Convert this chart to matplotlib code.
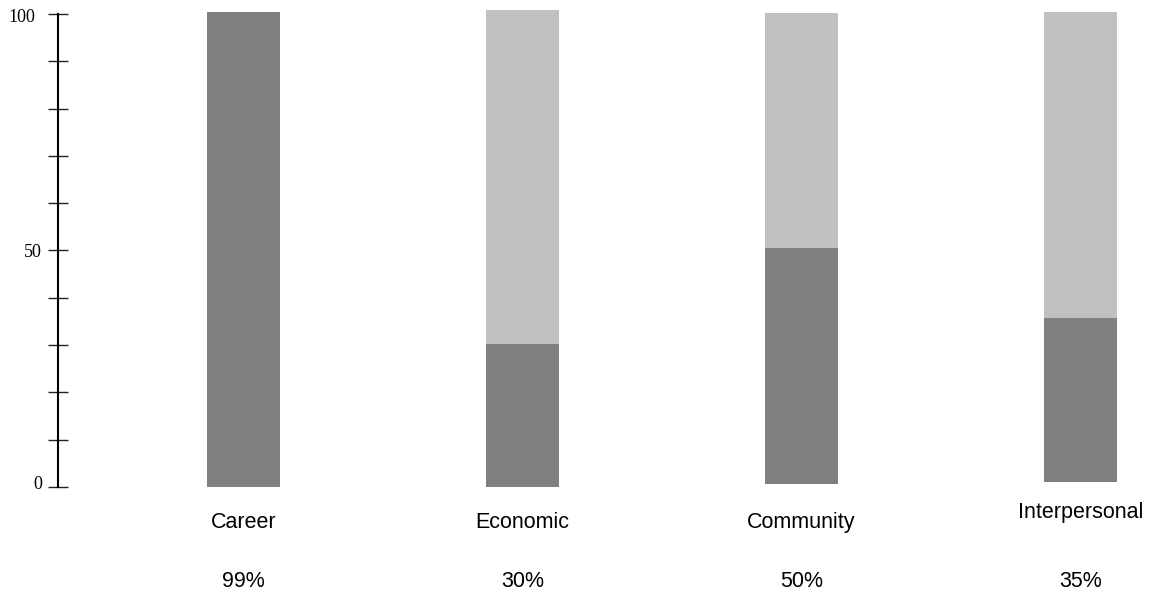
import matplotlib
matplotlib.use("Agg")
import matplotlib.pyplot as plt
import matplotlib.transforms as mtransforms
import numpy as np

categories = ["Career", "Economic", "Community", "Interpersonal"]
pct_labels = ["99%", "30%", "50%", "35%"]
bar_bottom = [0.0, 0.0, 0.6, 1.0]
dark_top = [100.4, 30.2, 50.5, 35.7]
light_top = [100.4, 100.8, 100.2, 100.4]
yticks = [0, 10, 20, 30, 40, 50, 60, 70, 80, 90, 100]
ytick_labels = ["0", "", "", "", "", "50", "", "", "", "", "100"]

W, H = 1153, 590
ymax = 102.0
px_per_unit = 473 / 100
top_px = 14 - (ymax - 100) * px_per_unit
fig = plt.figure(figsize=(W / 100, H / 100), dpi=100)
ax = fig.add_axes([58 / W, (H - 487) / H, (W - 58) / W, (487 - top_px) / H])

x = np.arange(len(categories))
width = 0.262
bottom = np.array(bar_bottom)
dark = np.array(dark_top)
light = np.array(light_top)
ax.bar(x, dark - bottom, width, bottom=bottom, color="#808080", linewidth=0)
ax.bar(x, light - dark, width, bottom=dark, color="#c0c0c0", linewidth=0)

ax.set_xlim(-0.665, -0.665 + (W - 58) / 279)
ax.set_ylim(0, ymax)
for s in ["top", "right", "bottom"]:
    ax.spines[s].set_visible(False)
ax.spines["left"].set_linewidth(1.5)
ax.spines["left"].set_bounds(0, 100)
ax.set_xticks([])
ax.set_yticks(yticks)
ax.set_yticklabels(ytick_labels, family="Liberation Serif", fontsize=13)
ax.tick_params(axis="y", direction="inout", length=14, width=1.0, color="#222222", pad=4.5)
labels = ax.get_yticklabels()
labels[0].set_va("bottom")
labels[0].set_transform(labels[0].get_transform() + mtransforms.ScaledTranslation(0, -6 / 100, fig.dpi_scale_trans))
labels[10].set_transform(labels[10].get_transform() + mtransforms.ScaledTranslation(-7 / 100, -2 / 100, fig.dpi_scale_trans))

trans = ax.get_xaxis_transform()
hax = (487 - top_px)
cat_base_px = [528, 528, 528, 518]
for xi, c, b in zip(x, categories, cat_base_px):
    ax.text(xi, -(b - 487) / hax, c, transform=trans, ha="center", va="baseline",
            family="Liberation Sans", fontsize=15.5, clip_on=False)
for xi, p in zip(x, pct_labels):
    ax.text(xi, -(587 - 487) / hax, p, transform=trans, ha="center", va="baseline",
            family="Liberation Sans", fontsize=15.5, clip_on=False)

fig.savefig("out.png", dpi=100)
